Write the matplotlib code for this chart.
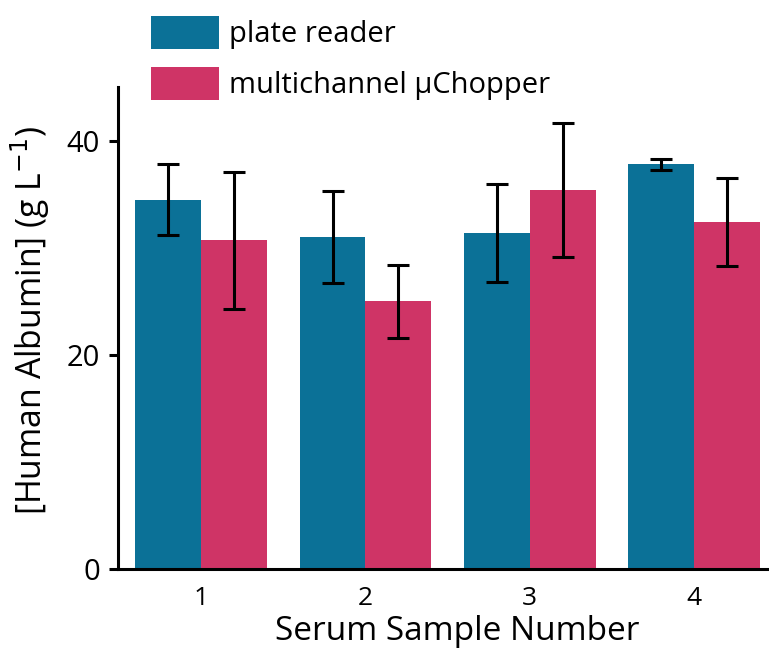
import numpy as np
import matplotlib.pyplot as plt

# Human albumin in serum samples: plate reader vs multichannel uChopper

samples = [1, 2, 3, 4]
plate_reader = [34.5, 31.0, 31.4, 37.8]
plate_reader_err = [3.3, 4.3, 4.6, 0.5]
uchopper = [30.7, 25.0, 35.4, 32.4]
uchopper_err = [6.4, 3.4, 6.3, 4.1]

blue = '#0b7197'
pink = '#cf3466'

plt.rcParams['font.family'] = ['Open Sans', 'DejaVu Sans']

fig = plt.figure(figsize=(7.69, 6.56), dpi=100)
# axes runs past the right edge (the original figure is cropped there)
ax = fig.add_axes([0.1534, 0.1326, 0.8817, 0.7344])

x = np.array(samples)
w = 0.4
err_kw = dict(ecolor='black', elinewidth=2.2, capsize=8, capthick=2.2)
ax.bar(x - w/2, plate_reader, w, yerr=plate_reader_err, color=blue,
       label='plate reader', error_kw=err_kw)
ax.bar(x + w/2, uchopper, w, yerr=uchopper_err, color=pink,
       label='multichannel \u00b5Chopper', error_kw=err_kw)

ax.set_xlim(0.494, 4.62)
ax.set_ylim(0, 45)
ax.set_yticks([0, 20, 40])
ax.set_xticks(samples)

# spines
ax.spines['top'].set_visible(False)
ax.spines['right'].set_visible(False)
ax.spines['left'].set_linewidth(2.2)
ax.spines['bottom'].set_linewidth(2.2)
ax.tick_params(axis='y', length=6.5, width=2.2, labelsize=21, pad=6.5)
ax.tick_params(axis='x', length=0, labelsize=19, pad=12)

ax.set_xlabel('Serum Sample Number', fontsize=24, labelpad=3)
ax.set_ylabel('[Human Albumin] (g L$^{-1}$)', fontsize=24.3)
ax.yaxis.set_label_coords(-0.098, 0.516)

fig.legend(loc='upper left', bbox_to_anchor=(0.196, 0.976), frameon=False,
           fontsize=21, handlelength=2.33, handleheight=1.38, handletextpad=0.36,
           labelspacing=0.6, borderpad=0, borderaxespad=0)

plt.savefig('out.png', dpi=100)
